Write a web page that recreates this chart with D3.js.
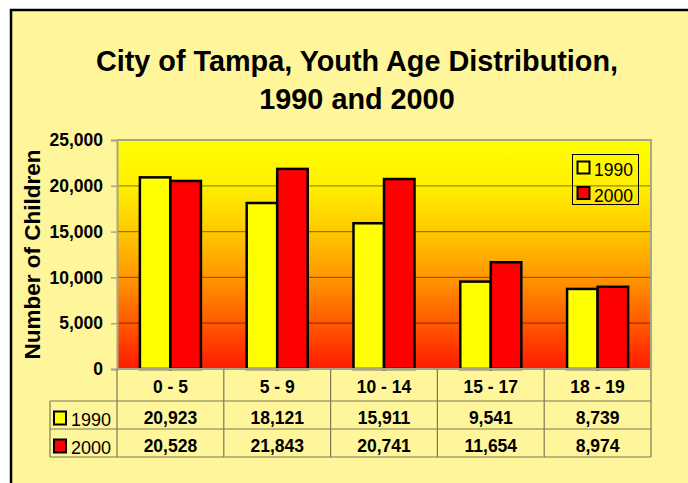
<!DOCTYPE html>
<html>
<head>
<meta charset="utf-8">
<script src="https://cdn.jsdelivr.net/npm/d3@7"></script>
<style>
  body { margin: 0; background: #fff; }
  svg { display: block; font-family: "Liberation Sans", Arial, sans-serif; }
</style>
</head>
<body>
<svg id="chart" width="688" height="483"></svg>
<script>
/* data */
var categories = ["0 - 5", "5 - 9", "10 - 14", "15 - 17", "18 - 19"];
var series = ["1990", "2000"];
var values1990 = [20923, 18121, 15911, 9541, 8739];
var values2000 = [20528, 21843, 20741, 11654, 8974];
var yTicks = [0, 5000, 10000, 15000, 20000, 25000];
var seriesColors = ["#ffff00", "#ff0000"];

var rows = categories.map(function (c, i) {
    return { name: c, "1990": values1990[i], "2000": values2000[i] };
});

/* layout */
var plot = { left: 117, right: 651, top: 140, bottom: 369 },
    tableLeft = 50,
    catRowBottom = 401,
    tableBottom = 457,
    lineColor = "#7d7a55";

var svg = d3.select("#chart");

/* frame */
svg.append("rect")
    .attr("x", 11).attr("y", 10)
    .attr("width", 720).attr("height", 520)
    .attr("fill", "#fff59b")
    .attr("stroke", "#000")
    .attr("stroke-width", 2.5);

/* gradient for plot area */
var grad = svg.append("defs").append("linearGradient")
    .attr("id", "bg")
    .attr("x1", 0).attr("y1", 0).attr("x2", 0).attr("y2", 1);
[[0, "#ffff00"], [0.2, "#fff000"], [0.4, "#ffc800"], [0.6, "#ff9600"], [0.8, "#ff5a00"], [1, "#ff1a00"]]
    .forEach(function (s) {
        grad.append("stop").attr("offset", s[0]).attr("stop-color", s[1]);
    });

/* scales */
var x0 = d3.scaleBand()
    .domain(categories)
    .range([plot.left, plot.right])
    .padding(0);

var x1 = d3.scaleBand()
    .domain(series)
    .range([0, x0.bandwidth()])
    .paddingInner(0)
    .paddingOuter(0.75);

var y = d3.scaleLinear()
    .domain([0, 25000])
    .range([plot.bottom, plot.top]);

var rowY = d3.scaleBand()
    .domain(series)
    .range([catRowBottom, tableBottom]);

var color = d3.scaleOrdinal().domain(series).range(seriesColors);

/* plot background */
svg.append("rect")
    .attr("x", plot.left).attr("y", plot.top)
    .attr("width", plot.right - plot.left)
    .attr("height", plot.bottom - plot.top)
    .attr("fill", "url(#bg)");

/* gridlines */
svg.append("g").selectAll("line")
    .data(yTicks.slice(1, -1))
    .enter().append("line")
    .attr("x1", plot.left).attr("x2", plot.right)
    .attr("y1", function (d) { return y(d); })
    .attr("y2", function (d) { return y(d); })
    .attr("stroke", "#000")
    .attr("stroke-opacity", 0.4)
    .attr("stroke-width", 1.2);

/* plot border (top, right) */
svg.append("path")
    .attr("d", "M" + plot.left + "," + plot.top + "H" + plot.right + "V" + plot.bottom)
    .attr("fill", "none")
    .attr("stroke", "#a8a58a")
    .attr("stroke-width", 2);

/* bars */
var groups = svg.append("g").selectAll("g")
    .data(rows)
    .enter().append("g")
    .attr("transform", function (d) { return "translate(" + x0(d.name) + ",0)"; });

groups.selectAll("rect")
    .data(function (d) { return series.map(function (s) { return { key: s, value: d[s] }; }); })
    .enter().append("rect")
    .attr("x", function (d) { return x1(d.key); })
    .attr("y", function (d) { return y(d.value); })
    .attr("width", x1.bandwidth())
    .attr("height", function (d) { return y(0) - y(d.value); })
    .attr("fill", function (d) { return color(d.key); })
    .attr("stroke", "#000")
    .attr("stroke-width", 2.5);

/* y-axis */
var yAxis = d3.axisLeft(y)
    .tickValues(yTicks)
    .tickFormat(d3.format(","))
    .tickSize(6)
    .tickPadding(8);

var yAxisG = svg.append("g")
    .attr("transform", "translate(" + plot.left + ",0)")
    .call(yAxis);
yAxisG.select(".domain").attr("stroke", "#a8a58a").attr("stroke-width", 2);
yAxisG.selectAll(".tick line").attr("stroke", "#a8a58a").attr("stroke-width", 1.5);
yAxisG.selectAll(".tick text")
    .attr("fill", "#000")
    .style("font-size", "17.5px")
    .style("font-weight", "bold")
    .style("font-family", "'Liberation Sans', Arial, sans-serif");

/* axis title */
svg.append("text")
    .attr("transform", "translate(40," + (plot.top + plot.bottom) / 2 + ") rotate(-90)")
    .attr("text-anchor", "middle")
    .style("font-size", "22.5px")
    .style("font-weight", "bold")
    .text("Number of Children");

/* chart title */
var title = svg.append("text")
    .attr("text-anchor", "middle")
    .style("font-size", "28.8px")
    .style("font-weight", "bold");
title.append("tspan").attr("x", 357).attr("y", 71).text("City of Tampa, Youth Age Distribution,");
title.append("tspan").attr("x", 357).attr("y", 109).text("1990 and 2000");

/* data table lines */
var table = svg.append("g")
    .attr("stroke", lineColor)
    .attr("stroke-width", 1.2)
    .attr("fill", "none");

table.append("line")   // bottom of plot
    .attr("x1", plot.left).attr("x2", plot.right)
    .attr("y1", plot.bottom).attr("y2", plot.bottom)
    .attr("stroke", "#a8a58a").attr("stroke-width", 2);

[catRowBottom].concat(series.map(function (s) { return rowY(s) + rowY.bandwidth(); }))
    .forEach(function (ly) {
        table.append("line")
            .attr("x1", tableLeft).attr("x2", plot.right)
            .attr("y1", ly).attr("y2", ly);
    });

table.append("line")
    .attr("x1", tableLeft).attr("x2", tableLeft)
    .attr("y1", catRowBottom).attr("y2", tableBottom);

table.selectAll(".col")
    .data(categories.map(function (c) { return x0(c); }).concat([plot.right]))
    .enter().append("line")
    .attr("class", "col")
    .attr("x1", function (d) { return d; })
    .attr("x2", function (d) { return d; })
    .attr("y1", plot.bottom)
    .attr("y2", tableBottom);

/* category labels */
svg.append("g").selectAll("text")
    .data(categories)
    .enter().append("text")
    .attr("x", function (d) { return x0(d) + x0.bandwidth() / 2; })
    .attr("y", 393)
    .attr("text-anchor", "middle")
    .style("font-size", "17.5px")
    .style("font-weight", "bold")
    .text(function (d) { return d; });

/* table values */
var fmt = d3.format(",");
series.forEach(function (s) {
    var vals = s === "1990" ? values1990 : values2000;
    svg.append("g").selectAll("text")
        .data(vals)
        .enter().append("text")
        .attr("x", function (d, i) { return x0(categories[i]) + x0.bandwidth() / 2; })
        .attr("y", rowY(s) + 22.5)
        .attr("text-anchor", "middle")
        .style("font-size", "17.5px")
        .style("font-weight", "bold")
        .text(function (d) { return fmt(d); });

    /* row header with key */
    svg.append("rect")
        .attr("x", 54).attr("y", rowY(s) + 10.5)
        .attr("width", 12).attr("height", 13)
        .attr("fill", color(s))
        .attr("stroke", "#000")
        .attr("stroke-width", 2);
    svg.append("text")
        .attr("x", 71).attr("y", rowY(s) + 24.5)
        .style("font-size", "18px")
        .text(s);
});

/* legend */
var legend = svg.append("g");
legend.append("rect")
    .attr("x", 572.5).attr("y", 154.5)
    .attr("width", 66).attr("height", 50)
    .attr("fill", "none")
    .attr("stroke", "#000")
    .attr("stroke-width", 1);

var legendItems = legend.selectAll(".item")
    .data(series)
    .enter().append("g")
    .attr("class", "item")
    .attr("transform", function (d, i) { return "translate(577," + (161 + i * 25.5) + ")"; });
legendItems.append("rect")
    .attr("x", 0.5).attr("y", 0.5)
    .attr("width", 12).attr("height", 12)
    .attr("fill", function (d) { return color(d); })
    .attr("stroke", "#000")
    .attr("stroke-width", 2);
legendItems.append("text")
    .attr("x", 17).attr("y", 15)
    .style("font-size", "17.5px")
    .text(function (d) { return d; });
</script>
</body>
</html>
